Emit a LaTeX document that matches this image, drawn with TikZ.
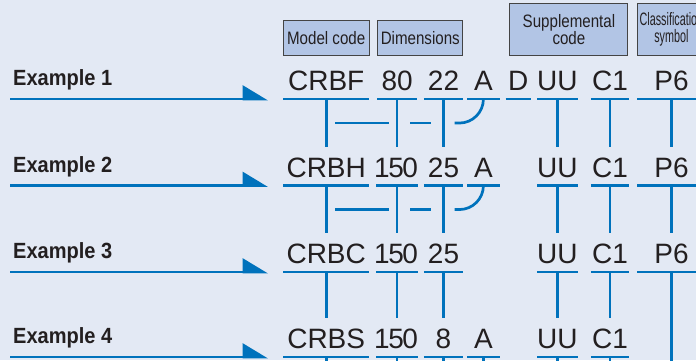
\documentclass[tikz,border=0pt]{standalone}
\usepackage{fontspec}
\setmainfont{Liberation Sans}
\newfontfamily\exfont{Liberation Sans Bold}[FakeStretch=0.91]
\newfontfamily\hdrfont{Liberation Sans}[FakeStretch=0.84]
\newfontfamily\slimfont{Liberation Sans}[FakeStretch=0.6]
\usepackage{tikz}
\usetikzlibrary{
  arrows.meta,
  calc,
  positioning
}
\definecolor{ink}{HTML}{231F20}
\definecolor{paper}{HTML}{E3E9F4}
\definecolor{rule}{HTML}{0072BC}
\definecolor{tab}{HTML}{B2C5E5}
\definecolor{tabline}{HTML}{444444}
\newcommand{\tightnum}{\kern-2pt1\kern-1.5pt5\kern-1.5pt0}
\tikzset{
  code/.style={
    text=ink,
    font=\fontsize{28}{30}\selectfont,
    text height=20pt,
    text depth=0pt,
    inner xsep=0pt,
    inner ysep=8pt,
    anchor=south
  },
  stem/.style={
    draw=rule,
    line width=2.7pt
  },
  uline/.style={
    draw=rule,
    line width=2.8pt
  },
  feed/.style={
    -{Triangle[harpoon, length=23pt, width=27pt]},
    draw=rule,
    line width=2.8pt
  },
  exlabel/.style={
    text=ink,
    font=\exfont\fontsize{22}{24}\selectfont,
    inner sep=0pt,
    anchor=base west
  },
  tabhead/.style={
    draw=tabline,
    fill=tab,
    text=ink,
    line width=0.9pt,
    inner sep=0pt,
    align=center,
    font=\hdrfont\fontsize{18}{17}\selectfont
  }
}

\begin{document}
\begin{tikzpicture}[x=1pt, y=-1pt]
  \useasboundingbox (0,0) rectangle (696,360);
  \fill[paper] (0,0) rectangle (696,360);
  \clip (0,0) rectangle (696,360);

  % model code, example label and feed arrow of each row
  \foreach \r/\yy/\mdl in {1/99/CRBF,2/185.5/CRBH,3/272/CRBC,4/357/CRBS}{
    \node[code, anchor=south west, minimum width=86pt] (model\r) at (283,\yy) {\mdl};
    \node[exlabel] (ex\r) at (13,\yy-13.3) {Example \r};
    \coordinate (src\r) at (10,\yy);
    \draw[feed] (src\r) -- ($(model\r.south west)+(-15pt,0pt)$);
  }

  % example 1
  \node[code, minimum width=39pt, right=8pt of model1] (dimA1) {80};
  \node[code, minimum width=39pt, right=7pt of dimA1] (dimB1) {22};
  \node[code, minimum width=32pt, right=4pt of dimB1] (optA1) {A};
  \node[code, minimum width=25pt, right=6pt of optA1] (optD1) {D};
  \node[code, minimum width=38pt, right=6pt of optD1] (seal1) {UU};
  \node[code, minimum width=38pt, right=13pt of seal1] (clr1) {C1};
  \node[code, minimum width=68pt, right=8pt of clr1] (cls1) {P6};

  % example 2
  \node[code, minimum width=39pt] (dimA2) at (dimA1 |- model2.south) {\tightnum};
  \node[code, minimum width=39pt] (dimB2) at (dimB1 |- model2.south) {25};
  \node[code, minimum width=32pt] (optA2) at (optA1 |- model2.south) {A};
  \node[code, minimum width=38pt] (seal2) at (seal1 |- model2.south) {UU};
  \node[code, minimum width=38pt] (clr2) at (clr1 |- model2.south) {C1};
  \node[code, minimum width=68pt] (cls2) at (cls1 |- model2.south) {P6};

  % example 3
  \node[code, minimum width=39pt] (dimA3) at (dimA1 |- model3.south) {\tightnum};
  \node[code, minimum width=39pt] (dimB3) at (dimB1 |- model3.south) {25};
  \node[code, minimum width=38pt] (seal3) at (seal1 |- model3.south) {UU};
  \node[code, minimum width=38pt] (clr3) at (clr1 |- model3.south) {C1};
  \node[code, minimum width=68pt] (cls3) at (cls1 |- model3.south) {P6};

  % example 4
  \node[code, minimum width=39pt] (dimA4) at (dimA1 |- model4.south) {\tightnum};
  \node[code, minimum width=39pt] (dimB4) at (dimB1 |- model4.south) {8};
  \node[code, minimum width=32pt] (optA4) at (optA1 |- model4.south) {A};
  \node[code, minimum width=38pt] (seal4) at (seal1 |- model4.south) {UU};
  \node[code, minimum width=38pt] (clr4) at (clr1 |- model4.south) {C1};

  \foreach \n in {model1,dimA1,dimB1,optA1,optD1,seal1,clr1,cls1,
                  model2,dimA2,dimB2,optA2,seal2,clr2,cls2,
                  model3,dimA3,dimB3,seal3,clr3,cls3,
                  model4,dimA4,dimB4,optA4,seal4,clr4}{
    \draw[uline] (\n.south west) -- (\n.south east);
  }

  % headings
  \node[tabhead, minimum width=86pt, minimum height=35pt, above=7pt of model1] (hmodel) {Model code};
  \node[tabhead, minimum width=85pt, minimum height=35pt, anchor=south] (hdims)
    at ($(dimA1.north)!.5!(dimB1.north)+(0pt,7pt)$) {Dimensions};
  \node[tabhead, minimum width=118pt, minimum height=52pt, anchor=south] (hsupp)
    at ($(optD1.north west)!.5!(clr1.north east)+(1.5pt,7pt)$) {Supplemental\\code};
  \node[tabhead, minimum width=68pt, minimum height=52pt, above=7pt of cls1] (hcls)
    {\slimfont Classification\\\slimfont symbol};

  % links between rows
  \foreach \r/\s in {1/2,2/3}{
    \foreach \c in {model,dimA,dimB,seal,clr,cls}{
      \draw[stem, shorten >=2.5pt] (\c\r.south) -- (\c\s.north);
    }
    \coordinate (mid\r) at ($(model\r.south)!.48!(model\s.north)$);
    \draw[stem] ($(mid\r)+(9pt,0pt)$) -- ($(dimA\r.south |- mid\r)+(-8pt,0pt)$);
    \draw[stem] ($(dimA\r.south |- mid\r)+(13pt,0pt)$) -- ($(dimB\r.south |- mid\r)+(-13pt,0pt)$);
    \draw[stem, rounded corners=24pt] ($(dimB\r.south |- mid\r)+(11pt,0pt)$) -| (optA\r.south);
  }
  \foreach \c in {model,dimA,dimB,seal,clr}{
    \draw[stem, shorten >=2.5pt] (\c3.south) -- (\c4.north);
  }
  \coordinate (bot) at (0,366);
  \foreach \n in {cls3,model4,dimA4,dimB4,optA4,seal4,clr4}{
    \draw[stem] (\n.south) -- (\n.south |- bot);
  }
\end{tikzpicture}
\end{document}
